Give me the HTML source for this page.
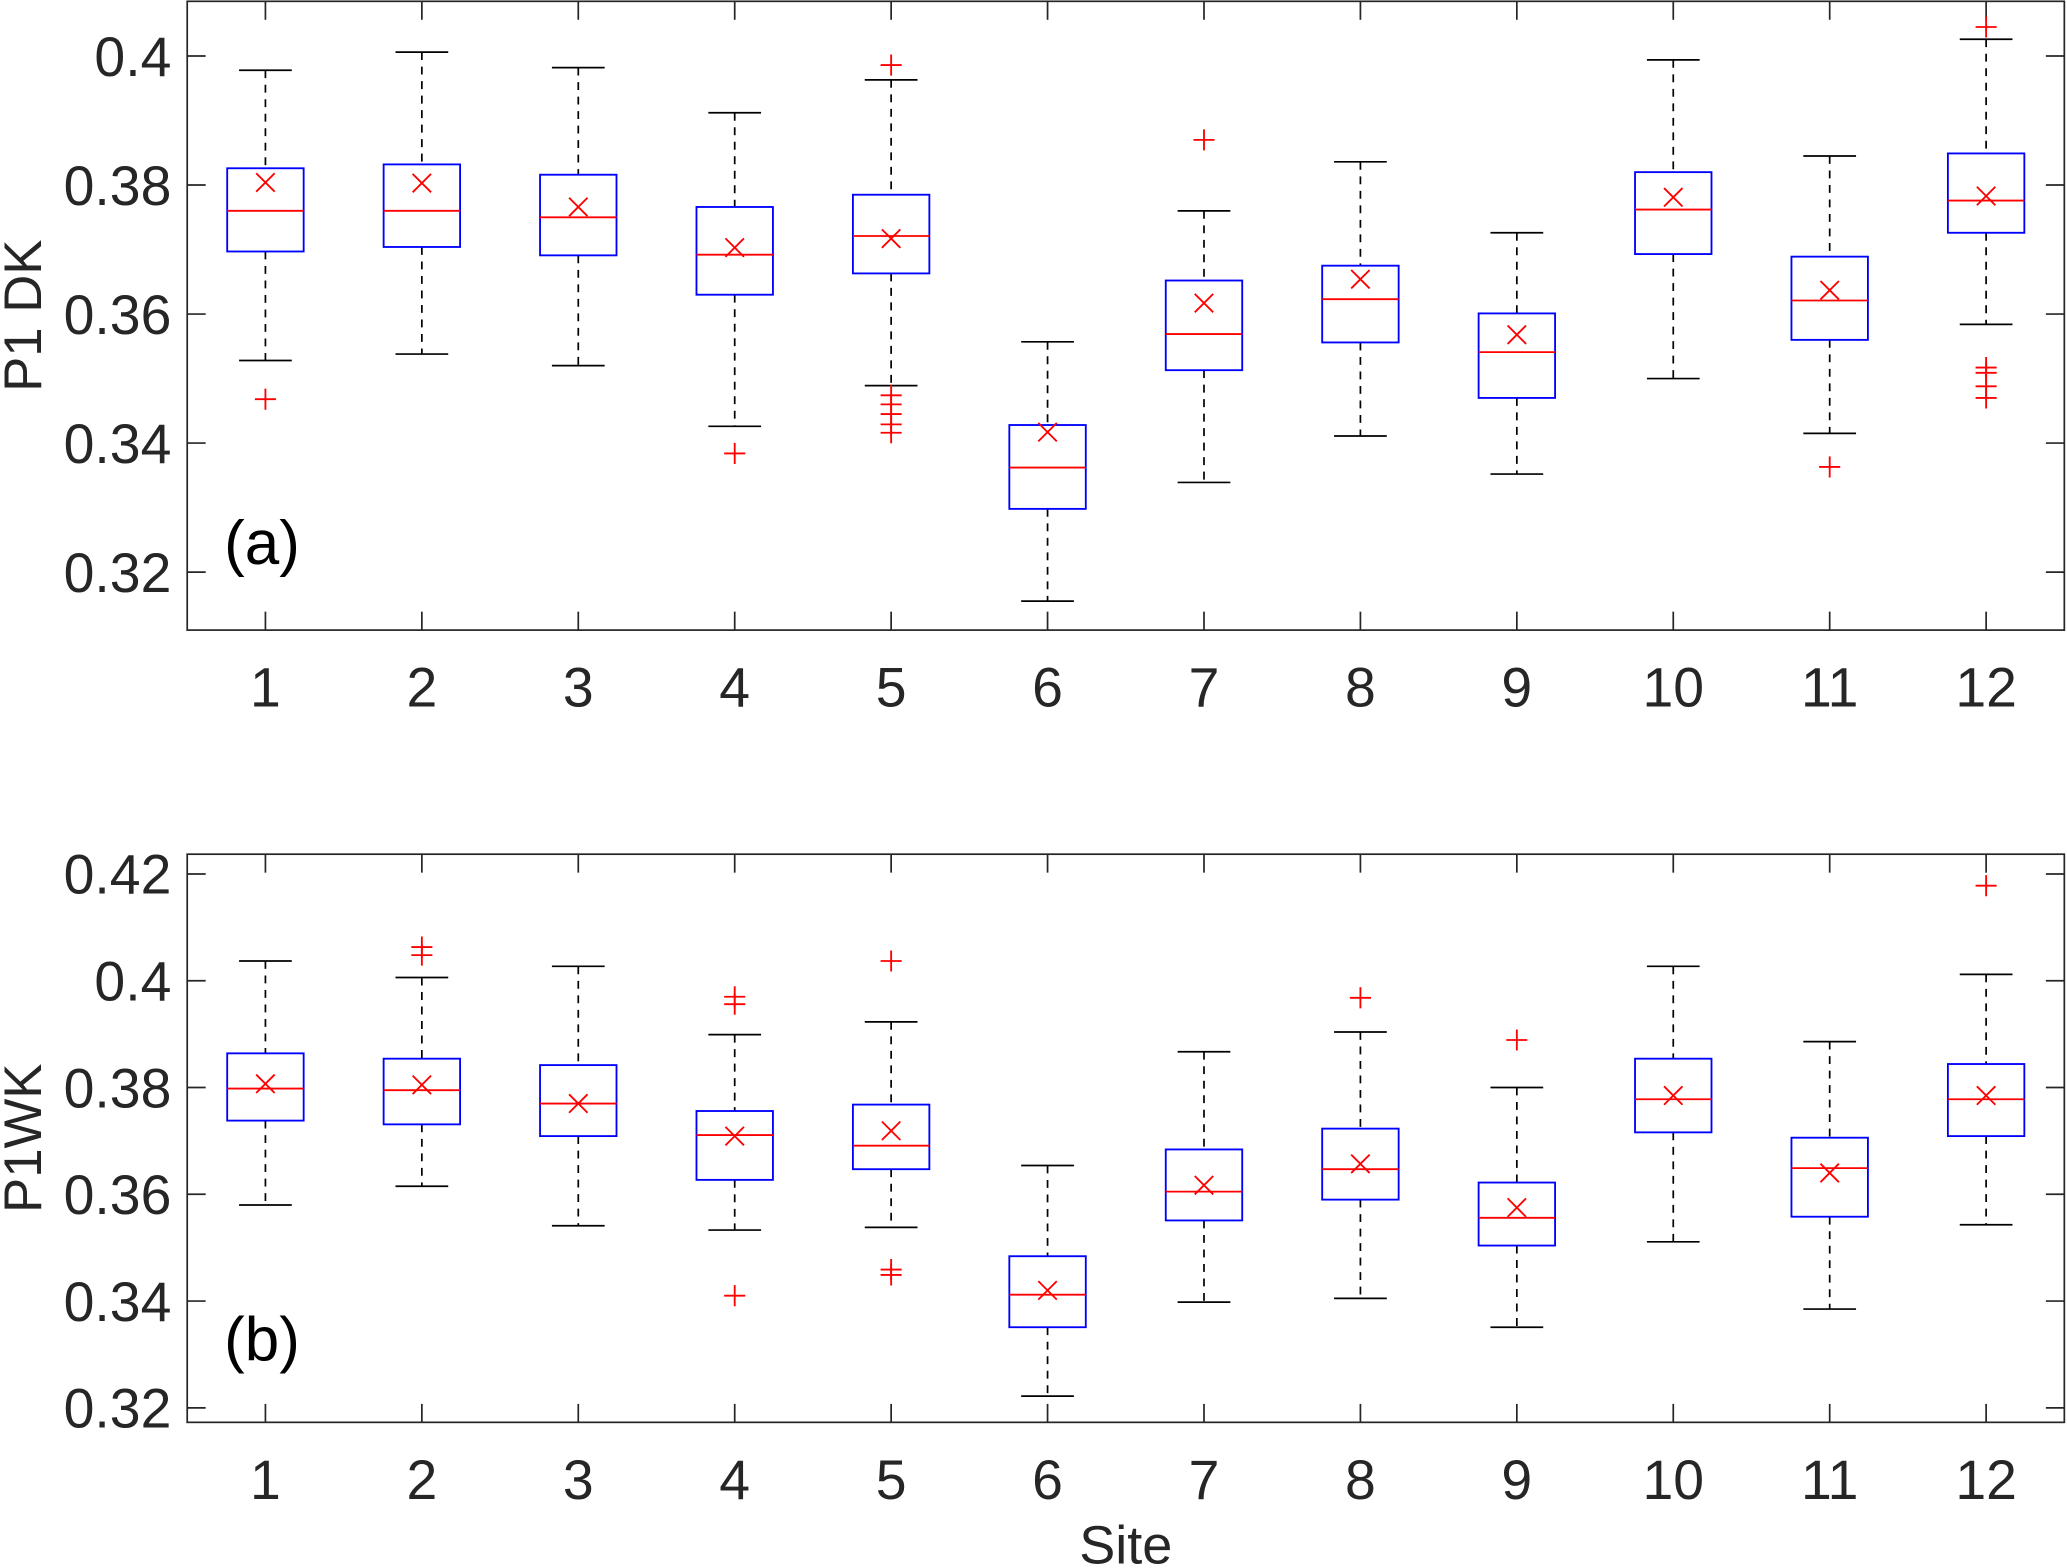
<!DOCTYPE html>
<html><head><meta charset="utf-8"><style>
html,body{margin:0;padding:0;background:#fff;}
svg{display:block;font-family:"Liberation Sans",Arial,sans-serif;}
</style></head><body>
<svg id="chart" width="2067" height="1568" viewBox="0 0 1568 1189.5" xmlns="http://www.w3.org/2000/svg"></svg>
<script>
const sites = [1,2,3,4,5,6,7,8,9,10,11,12];
// Panel a (P1 DK)
const aLow  = [0.3528,0.3538,0.3520,0.3426,0.3489,0.3155,0.3339,0.3411,0.3352,0.3500,0.3415,0.3584];
const aQ1   = [0.3697,0.3704,0.3691,0.3630,0.3663,0.3298,0.3513,0.3556,0.3470,0.3693,0.3560,0.3726];
const aMed  = [0.3760,0.3760,0.3750,0.3692,0.3721,0.3362,0.3569,0.3623,0.3541,0.3762,0.3621,0.3776];
const aQ3   = [0.3826,0.3832,0.3816,0.3766,0.3785,0.3428,0.3652,0.3675,0.3601,0.3820,0.3689,0.3849];
const aHigh = [0.3978,0.4006,0.3982,0.3912,0.3963,0.3557,0.3760,0.3836,0.3726,0.3994,0.3845,0.4026];
const aMean = [0.3804,0.3803,0.3766,0.3703,0.3717,0.3417,0.3617,0.3654,0.3568,0.3781,0.3637,0.3783];
const aOut  = [[0.3468],[],[],[0.3384],[0.3986,0.3474,0.3460,0.3445,0.3429,0.3416],[],[0.3870],[],[],[],[0.3363],[0.4045,0.3517,0.3509,0.3488,0.3470]];
const aTicks = [0.32,0.34,0.36,0.38,0.40];
const aTickLabels = ["0.32","0.34","0.36","0.38","0.4"];
// Panel b (P1WK)
const bLow  = [0.3580,0.3615,0.3541,0.3533,0.3538,0.3222,0.3398,0.3405,0.3351,0.3511,0.3385,0.3543];
const bQ1   = [0.3738,0.3731,0.3709,0.3627,0.3647,0.3351,0.3551,0.3590,0.3504,0.3716,0.3558,0.3709];
const bMed  = [0.3798,0.3795,0.3770,0.3711,0.3691,0.3412,0.3605,0.3647,0.3556,0.3778,0.3649,0.3778];
const bQ3   = [0.3864,0.3854,0.3842,0.3756,0.3768,0.3484,0.3684,0.3723,0.3622,0.3854,0.3706,0.3844];
const bHigh = [0.4037,0.4006,0.4027,0.3899,0.3923,0.3654,0.3867,0.3904,0.3800,0.4027,0.3886,0.4012];
const bMean = [0.3807,0.3805,0.3770,0.3709,0.3719,0.3420,0.3617,0.3657,0.3575,0.3785,0.3640,0.3785];
const bOut  = [[],[0.4063,0.4048],[],[0.3970,0.3956,0.3410],[0.4037,0.3459,0.3449],[],[],[0.3968],[0.3889],[],[],[0.4178]];
const bTicks = [0.32,0.34,0.36,0.38,0.40,0.42];
const bTickLabels = ["0.32","0.34","0.36","0.38","0.4","0.42"];

const svg = document.getElementById('chart');
const NS = 'http://www.w3.org/2000/svg';
function mk(tag, attrs, parent){const e=document.createElementNS(NS,tag);for(const k in attrs)e.setAttribute(k,attrs[k]);(parent||svg).appendChild(e);return e;}

function panel(cfg){
  const g = mk('g',{});
  
  
  const L=142,R=1566,T=cfg.top,B=cfg.bottom;
  const x = s => L + (s-0.5)/12*(R-L);
  const y = v => cfg.y0 + (v-cfg.v0)/(cfg.v1-cfg.v0)*(cfg.y1-cfg.y0);
  const frame = mk('rect',{x:L,y:T,width:R-L,height:B-T,fill:'none',stroke:'#262626','stroke-width':1.3},g);
  
  
  cfg.ticks.forEach((t,i)=>{
    const yy=y(t);
    mk('line',{x1:L,x2:L+14,y1:yy,y2:yy,stroke:'#262626','stroke-width':1.3},g);
    mk('line',{x1:R,x2:R-14,y1:yy,y2:yy,stroke:'#262626','stroke-width':1.3},g);
    const tx=mk('text',{x:L-12,y:yy+15,'text-anchor':'end','font-size':42,fill:'#262626'},g);
    tx.textContent=cfg.tickLabels[i];
    
    
  });
  sites.forEach((s,i)=>{
    const xx=x(s);
    mk('line',{x1:xx,x2:xx,y1:B,y2:B-14,stroke:'#262626','stroke-width':1.3},g);
    mk('line',{x1:xx,x2:xx,y1:T,y2:T+14,stroke:'#262626','stroke-width':1.3},g);
    const tx=mk('text',{x:xx,y:B+58,'text-anchor':'middle','font-size':42,fill:'#262626'},g);
    tx.textContent=String(s);
    
    
    const bg=mk('g',{},g);
    
    
    const hw=29, cw=20;
    const dash={stroke:'#000','stroke-width':1.3,'stroke-dasharray':'6,5'};
    mk('line',Object.assign({x1:xx,x2:xx,y1:y(cfg.high[i]),y2:y(cfg.q3[i])},dash),bg);
    mk('line',Object.assign({x1:xx,x2:xx,y1:y(cfg.q1[i]),y2:y(cfg.low[i])},dash),bg);
    mk('line',{x1:xx-cw,x2:xx+cw,y1:y(cfg.high[i]),y2:y(cfg.high[i]),stroke:'#000','stroke-width':1.3},bg);
    mk('line',{x1:xx-cw,x2:xx+cw,y1:y(cfg.low[i]),y2:y(cfg.low[i]),stroke:'#000','stroke-width':1.3},bg);
    mk('rect',{x:xx-hw,y:y(cfg.q3[i]),width:2*hw,height:y(cfg.q1[i])-y(cfg.q3[i]),fill:'none',stroke:'#0000ff','stroke-width':1.4},bg);
    mk('line',{x1:xx-hw,x2:xx+hw,y1:y(cfg.med[i]),y2:y(cfg.med[i]),stroke:'#ff0000','stroke-width':1.4},bg);
    const my=y(cfg.mean[i]),m=7;
    mk('path',{d:`M${xx-m},${my-m}L${xx+m},${my+m}M${xx-m},${my+m}L${xx+m},${my-m}`,stroke:'#ff0000','stroke-width':1.4,fill:'none'},bg);
    cfg.out[i].forEach(v=>{
      const oy=y(v),p=8;
      mk('path',{d:`M${xx-p},${oy}L${xx+p},${oy}M${xx},${oy-p}L${xx},${oy+p}`,stroke:'#ff0000','stroke-width':1.4,fill:'none'},bg);
    });
  });
  const yl=mk('text',{x:0,y:0,'text-anchor':'middle','font-size':40,fill:'#262626',transform:`translate(31,${(T+B)/2}) rotate(-90)`},g);
  yl.textContent=cfg.ylabel;
  
  
  const pl=mk('text',{x:170,y:cfg.labelY,'font-size':47,fill:'#000'},g);
  pl.textContent=cfg.panelLabel;
  
  
}
panel({name:'panel-a',top:1,bottom:478,y0:42.5,v0:0.40,y1:434,v1:0.32,ticks:aTicks,tickLabels:aTickLabels,
  low:aLow,q1:aQ1,med:aMed,q3:aQ3,high:aHigh,mean:aMean,out:aOut,ylabel:'P1 DK',panelLabel:'(a)',labelY:428});
panel({name:'panel-b',top:648,bottom:1079,y0:663,v0:0.42,y1:1068,v1:0.32,ticks:bTicks,tickLabels:bTickLabels,
  low:bLow,q1:bQ1,med:bMed,q3:bQ3,high:bHigh,mean:bMean,out:bOut,ylabel:'P1WK',panelLabel:'(b)',labelY:1032});
const xt=mk('text',{x:854,y:1186,'text-anchor':'middle','font-size':41,fill:'#262626'});
xt.textContent='Site';


</script>
</body></html>
